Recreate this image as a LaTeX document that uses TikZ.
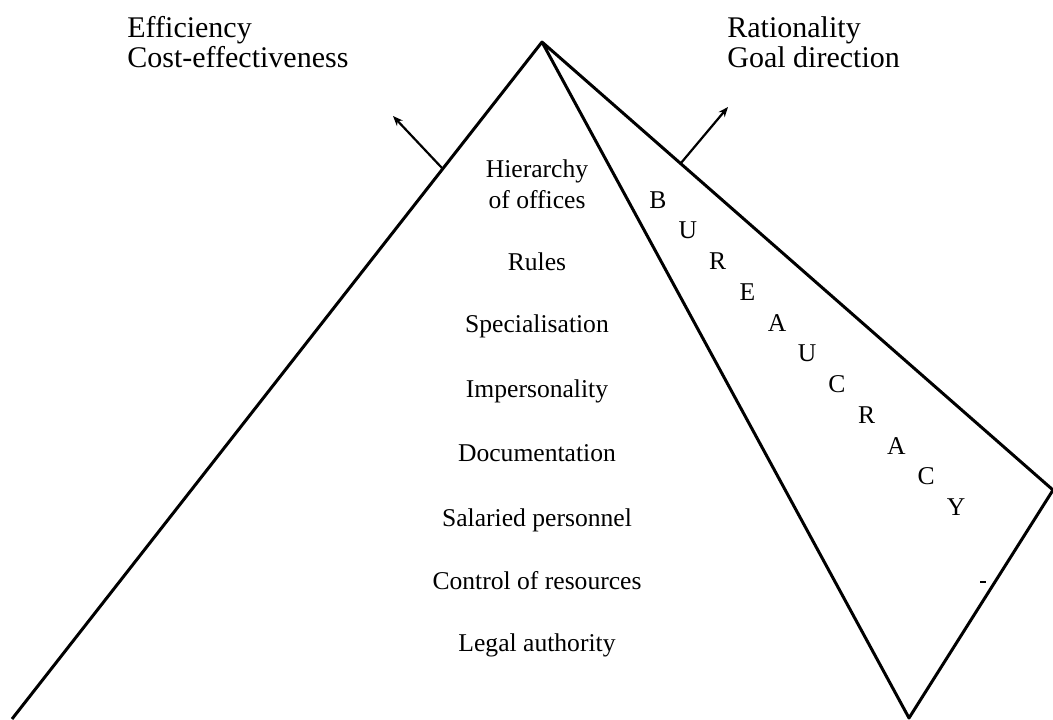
\documentclass[tikz,border=0pt]{standalone}
\usepackage{fontspec}
\setmainfont{Liberation Serif}
\usetikzlibrary{arrows.meta}
\begin{document}
\begin{tikzpicture}[x=0.5pt,y=-0.5pt,
  edge/.style={line width=1.5pt,line join=round},
  pointer/.style={line width=1.1pt,-{Stealth[length=5pt,width=4pt]}},
  title/.style={font=\fontsize{15}{18}\selectfont,anchor=base west,inner sep=0pt},
  trait/.style={font=\fontsize{12.8}{15}\selectfont,anchor=base,inner sep=0pt},
  letter/.style={font=\fontsize{12.8}{15}\selectfont,inner sep=0pt}]
\useasboundingbox (0,0) rectangle (1053,719);
% pyramid corners
\coordinate (apex) at (542,42);
\coordinate (left) at (12,719);
\coordinate (front) at (909,718);
\coordinate (back) at (1053,490);
\draw[edge] (left) -- (apex) -- (front) -- (back) -- (apex);
% arrows leaving the two faces
\coordinate (lfoot) at (442,168);
\coordinate (ltip) at (393,116);
\coordinate (rfoot) at (681,163);
\coordinate (rtip) at (728,107);
\draw[pointer] (lfoot) -- (ltip);
\draw[pointer] (rfoot) -- (rtip);
% headings
\node[title] (eff) at (127,37) {Efficiency};
\node[title] (cost) at (127,67) {Cost-effectiveness};
\node[title] (rat) at (727,37) {Rationality};
\node[title] (goal) at (727,67) {Goal direction};
% characteristics on the front face
\node[trait] (h1) at (537,177) {Hierarchy};
\node[trait] (h2) at (537,208) {of offices};
\node[trait] (t1) at (537,270) {Rules};
\node[trait] (t2) at (537,332) {Specialisation};
\node[trait] (t3) at (537,397) {Impersonality};
\node[trait] (t4) at (537,461) {Documentation};
\node[trait] (t5) at (537,526) {Salaried personnel};
\node[trait] (t6) at (537,589) {Control of resources};
\node[trait] (t7) at (537,651) {Legal authority};
% the word down the side face
\foreach \ch [count=\i from 0] in {B,U,R,E,A,U,C,R,A,C,Y}
  \node[letter] (w\i) at ({658+29.8*\i},{200+30.7*\i}) {\ch};
% small mark on the side face
\draw[line width=0.8pt] (980,582) -- (986,582);
\end{tikzpicture}
\end{document}
